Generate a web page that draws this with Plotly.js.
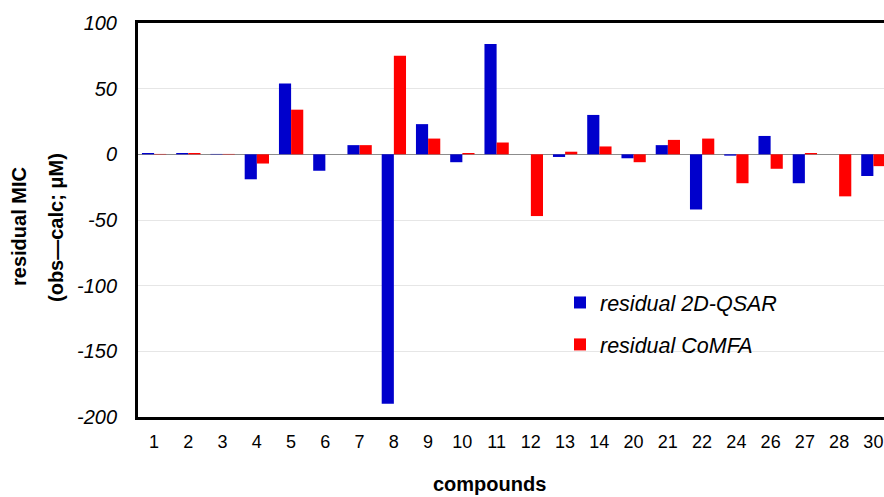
<!DOCTYPE html>
<html>
<head>
<meta charset="utf-8">
<script src="https://cdn.plot.ly/plotly-3.0.1.min.js"></script>
<style>html,body{margin:0;padding:0;background:#fff;}#chart{width:884px;height:497px;}</style>
</head>
<body>
<div id="chart"></div>
<script>
const compounds = ["1","2","3","4","5","6","7","8","9","10","11","12","13","14","20","21","22","24","26","27","28","30"];
const residual2DQSAR = [1, 1, 0.3, -19, 54, -12.5, 7, -190, 23, -6, 84, 0, -2, 30, -3, 7, -42, -1, 14, -22, 0, -16.5];
const residualCoMFA = [0.3, 1, 0.3, -7, 34, 0, 7, 75, 12, 1, 9, -47, 2, 6, -6, 11, 12, -22, -11, 1, -32, -9];
const yTickVals = [-200, -150, -100, -50, 0, 50, 100];
const yTickText = ["-200", "-150", "-100", "-50", "0", "50", "100"];

const fontFam = 'Liberation Sans, Arial, sans-serif';
const L = 138, T = 23, W = 884 - L, H = 394, B = T + H;
const px2x = p => (p - L) / W;
const px2y = p => (B - p) / H;

const traces = [
  {type:'bar', x: compounds, y: residual2DQSAR, name: 'residual 2D-QSAR',
   marker:{color:'#0000CC', line:{width:0}}, legendgroup:'a'},
  {type:'bar', x: compounds, y: residualCoMFA, name: 'residual CoMFA',
   marker:{color:'#FF0000', line:{width:0}}, legendgroup:'b'}
];

const layout = {
  width: 884, height: 497,
  margin: {l:L, r:0, t:T, b:497 - B},
  paper_bgcolor:'#fff', plot_bgcolor:'#fff',
  barmode:'group', bargap:0.29, bargroupgap:0,
  font:{family: fontFam, color:'#000'},
  showlegend:true,
  legend:{x:px2x(560), xanchor:'left', y:px2y(282), yanchor:'top', bgcolor:'rgba(0,0,0,0)',
          font:{family:fontFam, size:21.5, style:'italic', color:'#000'},
          traceorder:'grouped', tracegroupgap:11, itemwidth:30},
  shapes:[
    {type:'rect', xref:'paper', yref:'paper', x0:px2x(552), x1:px2x(805), y0:px2y(368), y1:px2y(272),
     fillcolor:'#fff', line:{width:0}, layer:'between'}
  ],
  xaxis:{type:'category', range:[-0.47, 21.31], showgrid:false, zeroline:false,
         showline:true, linecolor:'#000', linewidth:3, mirror:true,
         ticks:'', tickfont:{size:18, family:fontFam, color:'#000'}, ticklabelstandoff:6,
         fixedrange:true},
  yaxis:{range:[-200,100], tickmode:'array', tickvals:yTickVals, ticktext:yTickText,
         showgrid:true, gridcolor:'#e6e6e6', gridwidth:1,
         zeroline:true, zerolinecolor:'#8c8c8c', zerolinewidth:1.5,
         showline:true, linecolor:'#000', linewidth:3, mirror:false,
         ticks:'', tickfont:{size:20, family:fontFam, style:'italic', color:'#000'},
         ticklabelstandoff:14, fixedrange:true},
  annotations:[
    {text:'<b>compounds</b>', xref:'paper', yref:'paper', x:px2x(489), y:px2y(484),
     xanchor:'center', yanchor:'middle', showarrow:false, font:{size:20, family:fontFam, color:'#000'}},
    {text:'<b>residual MIC</b>', xref:'paper', yref:'paper', x:px2x(19), y:px2y(227),
     xanchor:'center', yanchor:'middle', textangle:-90, showarrow:false, font:{size:20, family:fontFam, color:'#000'}},
    {text:'<b>(obs—calc; μM)</b>', xref:'paper', yref:'paper', x:px2x(56), y:px2y(228),
     xanchor:'center', yanchor:'middle', textangle:-90, showarrow:false, font:{size:20, family:fontFam, color:'#000'}}
  ]
};

Plotly.newPlot('chart', traces, layout, {displayModeBar:false, staticPlot:true});
</script>
</body>
</html>
